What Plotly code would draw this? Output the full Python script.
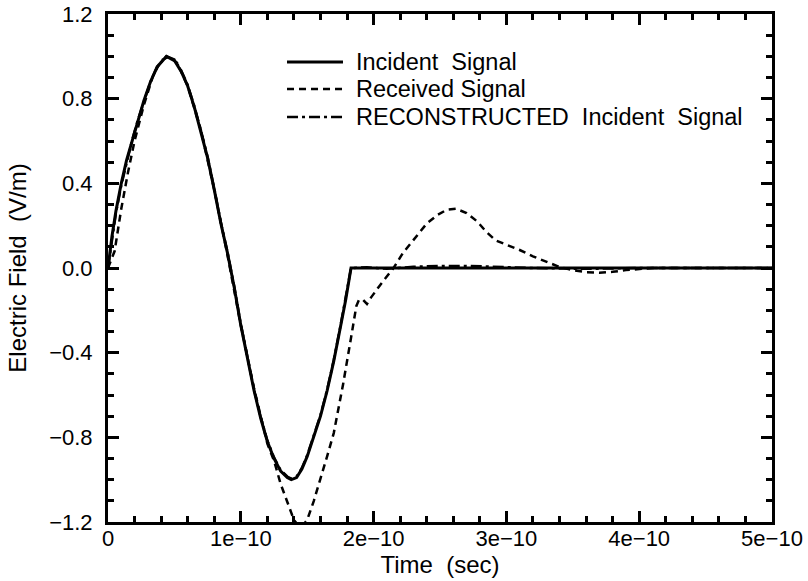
import plotly.graph_objects as go

# time in units of 1e-10 s
t_inc = [0.00, 0.03, 0.06, 0.10, 0.14, 0.18, 0.22, 0.27, 0.32, 0.37, 0.44, 0.50, 0.55, 0.60,
         0.65, 0.70, 0.75, 0.80, 0.85, 0.90, 0.95, 1.00, 1.05, 1.10, 1.15, 1.20, 1.25, 1.30,
         1.35, 1.38, 1.42, 1.46, 1.50, 1.55, 1.60, 1.65, 1.70, 1.75, 1.79, 1.83, 5.00]
v_inc = [0.00, 0.15, 0.27, 0.40, 0.51, 0.60, 0.69, 0.79, 0.88, 0.95, 1.00, 0.98, 0.93, 0.86,
         0.76, 0.645, 0.52, 0.37, 0.21, 0.07, -0.09, -0.27, -0.43, -0.58, -0.71, -0.82, -0.90,
         -0.96, -0.99, -1.00, -0.99, -0.95, -0.89, -0.80, -0.70, -0.58, -0.44, -0.28, -0.15,
         0.00, 0.00]

t_rec = [0.00, 0.05, 0.10, 0.15, 0.20, 0.27, 0.34, 0.40, 0.46, 0.52, 0.60, 0.70, 0.80, 0.90,
         1.00, 1.10, 1.20, 1.25, 1.30, 1.35, 1.40, 1.45, 1.50, 1.55, 1.60, 1.65, 1.70, 1.77,
         1.83, 1.87, 1.89, 1.92, 1.95, 1.98, 2.05, 2.15, 2.22, 2.30, 2.40, 2.48, 2.55, 2.62,
         2.70, 2.78, 2.85, 2.92, 3.00, 3.10, 3.20, 3.30, 3.40, 3.50, 3.60, 3.70, 3.80, 3.90,
         4.00, 4.10, 5.00]
v_rec = [0.00, 0.08, 0.28, 0.45, 0.60, 0.77, 0.91, 0.98, 1.00, 0.97, 0.86, 0.65, 0.37, 0.06,
         -0.27, -0.57, -0.83, -0.91, -1.02, -1.11, -1.19, -1.23, -1.19, -1.10, -1.00, -0.89,
         -0.78, -0.55, -0.33, -0.18, -0.15, -0.15, -0.17, -0.14, -0.08, 0.00, 0.07, 0.13, 0.21,
         0.25, 0.275, 0.28, 0.26, 0.22, 0.17, 0.13, 0.11, 0.085, 0.055, 0.03, 0.005, -0.01,
         -0.02, -0.022, -0.018, -0.01, -0.005, 0.00, 0.00]

t_rcn = [0.00, 0.03, 0.06, 0.10, 0.14, 0.18, 0.22, 0.27, 0.32, 0.37, 0.44, 0.50, 0.55, 0.60,
         0.65, 0.70, 0.75, 0.80, 0.85, 0.90, 0.95, 1.00, 1.05, 1.10, 1.15, 1.20, 1.25, 1.30,
         1.35, 1.38, 1.42, 1.46, 1.50, 1.55, 1.60, 1.65, 1.70, 1.75, 1.79, 1.83, 1.95, 2.10,
         2.30, 2.50, 2.70, 2.90, 3.20, 3.60, 4.00, 5.00]
v_rcn = [0.00, 0.14, 0.26, 0.39, 0.50, 0.60, 0.69, 0.79, 0.88, 0.95, 1.00, 0.985, 0.935, 0.865,
         0.765, 0.65, 0.525, 0.375, 0.215, 0.075, -0.085, -0.265, -0.425, -0.575, -0.705,
         -0.815, -0.895, -0.955, -0.985, -0.995, -0.985, -0.945, -0.885, -0.795, -0.695,
         -0.575, -0.435, -0.275, -0.145, 0.00, 0.003, -0.004, 0.006, 0.01, 0.01, 0.005, 0.0,
         -0.004, 0.0, 0.0]

names = ["Incident\u00a0\u00a0Signal", "Received Signal",
         "RECONSTRUCTED\u00a0\u00a0Incident\u00a0\u00a0Signal"]

x_ticks = [0, 1, 2, 3, 4, 5]
x_ticktext = ["0", "1e\u221210", "2e\u221210", "3e\u221210", "4e\u221210", "5e\u221210"]
y_ticks = [-1.2, -0.8, -0.4, 0.0, 0.4, 0.8, 1.2]
y_ticktext = ["\u22121.2", "\u22120.8", "\u22120.4", "0.0", "0.4", "0.8", "1.2"]

S = 1e-10
FONT = "Liberation Sans, Arial, Helvetica, sans-serif"

styles = [dict(color="black", width=3),
          dict(color="black", width=2.5, dash="7px,5px"),
          dict(color="black", width=2.5, dash="11px,4px,3px,4px")]

fig = go.Figure()
for tt, vv, nm, st in [(t_inc, v_inc, names[0], styles[0]),
                       (t_rec, v_rec, names[1], styles[1]),
                       (t_rcn, v_rcn, names[2], styles[2])]:
    fig.add_trace(go.Scatter(x=[t * S for t in tt], y=vv, mode="lines", name=nm,
                             line=st, showlegend=False))

# manual legend (sample lines + labels), paper coordinates
leg_y = [0.9055, 0.8524, 0.7972]
for i, nm in enumerate(names):
    fig.add_shape(type="line", xref="paper", yref="paper", x0=0.2696, x1=0.3539,
                  y0=leg_y[i], y1=leg_y[i], line=styles[i])
    fig.add_annotation(xref="paper", yref="paper", x=0.3705, y=leg_y[i], text=nm,
                       showarrow=False, xanchor="left", yanchor="middle",
                       font=dict(family=FONT, size=23.5, color="black"))

axis_common = dict(showline=True, linecolor="black", linewidth=3, mirror="ticks",
                   ticks="inside", ticklen=11, tickwidth=2.5, tickcolor="black",
                   showgrid=False, zeroline=False, automargin=False,
                   tickfont=dict(family=FONT, size=22, color="black"))

fig.update_xaxes(range=[0, 5 * S], tickvals=[t * S for t in x_ticks], ticktext=x_ticktext,
                 ticklabelstandoff=-5,
                 title=dict(text="Time\u00a0\u00a0(sec)", font=dict(family=FONT, size=24, color="black"),
                            standoff=6),
                 minor=dict(ticks="inside", ticklen=6, tickwidth=2.5, tickcolor="black",
                            dtick=0.2 * S, tick0=0),
                 **axis_common)
fig.update_yaxes(range=[-1.2, 1.2], tickvals=y_ticks, ticktext=y_ticktext,
                 ticklabelstandoff=8,
                 title=dict(text="Electric Field\u00a0\u00a0(V/m)", font=dict(family=FONT, size=24, color="black"),
                            standoff=16),
                 minor=dict(ticks="inside", ticklen=6, tickwidth=2.5, tickcolor="black",
                            dtick=0.1, tick0=0),
                 **axis_common)

fig.update_layout(
    width=808, height=581,
    margin=dict(l=108, r=36, t=14, b=59),
    paper_bgcolor="white", plot_bgcolor="white",
    showlegend=False,
)

fig.write_html("out.html")
